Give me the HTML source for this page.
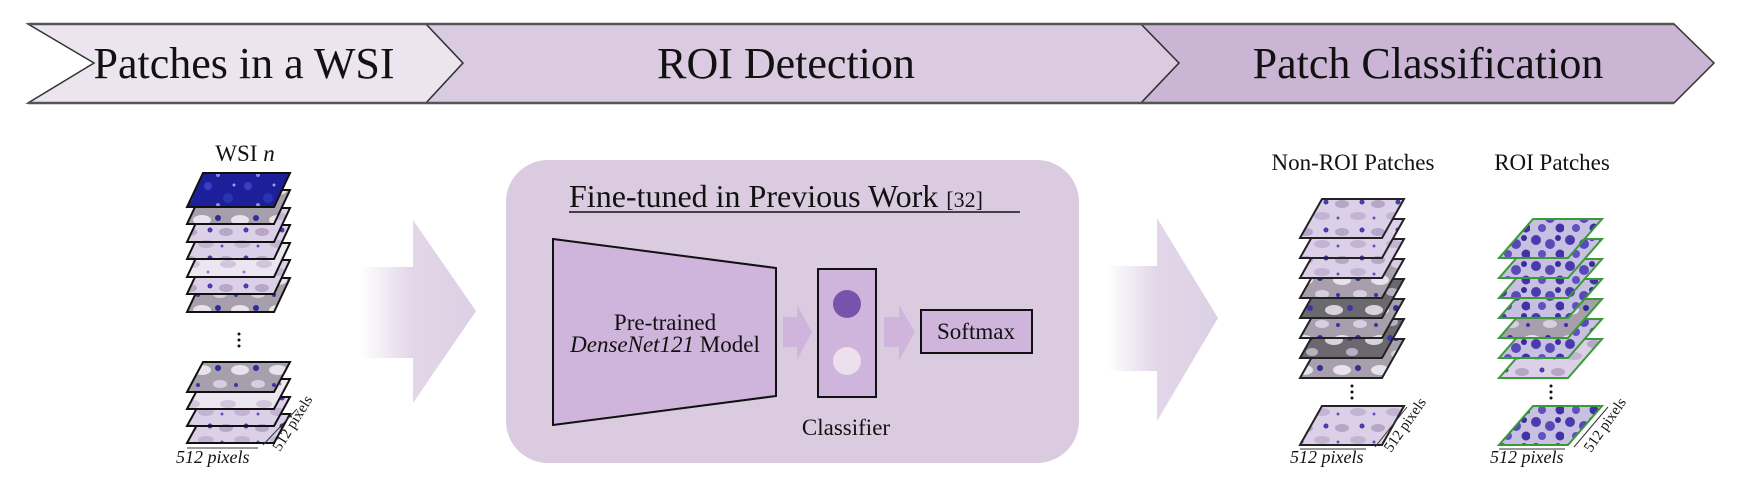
<!DOCTYPE html>
<html><head><meta charset="utf-8"><style>
html,body{margin:0;padding:0;background:#fff;}
svg{display:block;}
text{font-family:"Liberation Serif",serif;fill:#111;}
</style></head><body>
<svg width="1738" height="490" viewBox="0 0 1738 490" xmlns="http://www.w3.org/2000/svg">
<defs>
 <linearGradient id="ga" x1="0" x2="1" y1="0" y2="0">
  <stop offset="0" stop-color="#e2d6e8" stop-opacity="0"/>
  <stop offset="0.45" stop-color="#e2d6e8" stop-opacity="1"/>
  <stop offset="1" stop-color="#ddd0e4"/>
 </linearGradient>
 <pattern id="pBlue" patternUnits="userSpaceOnUse" width="40" height="30">
  <rect width="40" height="30" fill="#1d1f9a"/>
  <circle cx="8" cy="6" r="4" fill="#3440c0"/><circle cx="28" cy="18" r="5" fill="#2a33b0"/>
  <circle cx="18" cy="25" r="2" fill="#8a8ad8"/><circle cx="34" cy="5" r="1.5" fill="#9aa0e0"/>
 </pattern>
 <pattern id="pLight" patternUnits="userSpaceOnUse" width="36" height="28">
  <rect width="36" height="28" fill="#dcd0e8"/>
  <ellipse cx="10" cy="8" rx="7" ry="4" fill="#b8a6c8"/><ellipse cx="26" cy="20" rx="8" ry="4" fill="#c4b4d4"/>
  <circle cx="30" cy="6" r="2.5" fill="#4b3aa8"/><circle cx="6" cy="22" r="1.5" fill="#6a50b8"/>
 </pattern>
 <pattern id="pGray" patternUnits="userSpaceOnUse" width="38" height="30">
  <rect width="38" height="30" fill="#a7a0ac"/>
  <ellipse cx="12" cy="10" rx="9" ry="5" fill="#e8e2ec"/><ellipse cx="30" cy="24" rx="7" ry="4" fill="#d8cee2"/>
  <circle cx="28" cy="8" r="3" fill="#2d2c9a"/><circle cx="8" cy="25" r="2" fill="#3b35a8"/>
 </pattern>
 <pattern id="pDark" patternUnits="userSpaceOnUse" width="40" height="30">
  <rect width="40" height="30" fill="#6c6870"/>
  <ellipse cx="14" cy="10" rx="9" ry="5" fill="#d8d4dc"/><ellipse cx="32" cy="22" rx="6" ry="4" fill="#b8b0c0"/>
  <circle cx="30" cy="8" r="3" fill="#3a36a8"/>
 </pattern>
 <pattern id="pPale" patternUnits="userSpaceOnUse" width="36" height="28">
  <rect width="36" height="28" fill="#ece6f0"/>
  <ellipse cx="12" cy="12" rx="8" ry="4" fill="#d2c6dc"/><circle cx="28" cy="20" r="1.5" fill="#9a7ac8"/>
 </pattern>
 <pattern id="pRoi" patternUnits="userSpaceOnUse" width="34" height="26">
  <rect width="34" height="26" fill="#c8c0e0"/>
  <circle cx="6" cy="6" r="5" fill="#4a3ab0"/><circle cx="20" cy="10" r="5" fill="#5a48b8"/>
  <circle cx="30" cy="20" r="4.5" fill="#4232a8"/><circle cx="12" cy="20" r="4" fill="#6050c0"/>
  <circle cx="28" cy="4" r="3" fill="#3a2ca0"/>
 </pattern>
</defs>

<polygon points="28,24 426,24 463,63 426,103 28,103 94,63" fill="#ece4ee" stroke="#333" stroke-width="1.5"/>
<polygon points="426,24 1141,24 1179,63 1141,103 426,103 463,63" fill="#dacbe1" stroke="#333" stroke-width="1.5"/>
<polygon points="1141,24 1674,24 1714,63 1674,103 1141,103 1179,63" fill="#cbb5d5" stroke="#333" stroke-width="1.5"/>
<line x1="28" y1="24" x2="1674" y2="24" stroke="#555" stroke-width="2.5"/>
<line x1="28" y1="103" x2="1674" y2="103" stroke="#555" stroke-width="2.5"/>
<text x="244" y="78" font-size="44" text-anchor="middle">Patches in a WSI</text>
<text x="786" y="78" font-size="44" text-anchor="middle">ROI Detection</text>
<text x="1428" y="78" font-size="44" text-anchor="middle">Patch Classification</text>

<text x="245" y="161" font-size="23" text-anchor="middle">WSI <tspan font-style="italic">n</tspan></text>
<g stroke="#111" stroke-width="2">
 <polygon points="203,278 290,278 274,312 187,312" fill="url(#pGray)"/>
 <polygon points="203,260 290,260 274,294 187,294" fill="url(#pLight)"/>
 <polygon points="203,243 290,243 274,277 187,277" fill="url(#pPale)"/>
 <polygon points="203,225 290,225 274,259 187,259" fill="url(#pLight)"/>
 <polygon points="203,208 290,208 274,242 187,242" fill="url(#pLight)"/>
 <polygon points="203,190 290,190 274,224 187,224" fill="url(#pGray)"/>
 <polygon points="203,173 290,173 274,207 187,207" fill="url(#pBlue)"/>
 <polygon points="203,414 290,414 274,443 187,443" fill="url(#pLight)"/>
 <polygon points="203,397 290,397 274,426 187,426" fill="url(#pLight)"/>
 <polygon points="203,379 290,379 274,409 187,409" fill="url(#pPale)"/>
 <polygon points="203,362 290,362 274,392 187,392" fill="url(#pGray)"/>
</g>
<circle cx="239" cy="334" r="1.5" fill="#111"/><circle cx="239" cy="340" r="1.5" fill="#111"/><circle cx="239" cy="346" r="1.5" fill="#111"/>
<line x1="187" y1="448" x2="258" y2="448" stroke="#333" stroke-width="1"/>
<line x1="263" y1="445" x2="297" y2="409" stroke="#333" stroke-width="1"/>
<text x="176" y="463" font-size="18" font-style="italic">512 pixels</text>
<text x="0" y="0" font-size="15" transform="translate(280,452) rotate(-58)">512 pixels</text>

<polygon points="360,267 413,267 413,220 476,311 413,403 413,358 360,358" fill="url(#ga)"/>

<rect x="506" y="160" width="573" height="303" rx="42" fill="#dacbe1"/>
<text x="569" y="207" font-size="32">Fine-tuned in Previous Work <tspan font-size="22">[32]</tspan></text>
<line x1="569" y1="212" x2="1020" y2="212" stroke="#111" stroke-width="1.5"/>
<polygon points="553,239 776,268 776,396 553,425" fill="#cfb4dc" stroke="#111" stroke-width="2"/>
<text x="665" y="330" font-size="23" text-anchor="middle">Pre-trained</text>
<text x="665" y="352" font-size="23" text-anchor="middle"><tspan font-style="italic">DenseNet121</tspan> Model</text>
<polygon points="783,317 797,317 797,305 812,332 797,360 797,347 783,347" fill="#cfb4dc"/>
<rect x="818" y="269" width="58" height="128" fill="#cfb4dc" stroke="#111" stroke-width="2"/>
<circle cx="847" cy="304" r="14" fill="#7b52ab"/>
<circle cx="847" cy="361" r="14" fill="#ecdfee"/>
<text x="846" y="435" font-size="23" text-anchor="middle">Classifier</text>
<polygon points="884,317 899,317 899,305 915,332 899,360 899,347 884,347" fill="#cfb4dc"/>
<rect x="921" y="310" width="111" height="43" fill="#cfb4dc" stroke="#111" stroke-width="2"/>
<text x="976" y="339" font-size="23" text-anchor="middle">Softmax</text>

<polygon points="1107,266 1157,266 1157,218 1218,318 1157,421 1157,371 1107,371" fill="url(#ga)"/>

<text x="1353" y="170" font-size="23" text-anchor="middle">Non-ROI Patches</text>
<g stroke="#222" stroke-width="2">
 <polygon points="1322,339 1404,339 1382,378 1300,378" fill="url(#pGray)"/>
 <polygon points="1322,319 1404,319 1382,358 1300,358" fill="url(#pDark)"/>
 <polygon points="1322,299 1404,299 1382,338 1300,338" fill="url(#pGray)"/>
 <polygon points="1322,279 1404,279 1382,318 1300,318" fill="url(#pDark)"/>
 <polygon points="1322,259 1404,259 1382,298 1300,298" fill="url(#pGray)"/>
 <polygon points="1322,239 1404,239 1382,278 1300,278" fill="url(#pLight)"/>
 <polygon points="1322,219 1404,219 1382,258 1300,258" fill="url(#pLight)"/>
 <polygon points="1322,199 1404,199 1382,238 1300,238" fill="url(#pLight)"/>
 <polygon points="1322,406 1404,406 1382,445 1300,445" fill="url(#pLight)"/>
</g>
<circle cx="1352" cy="386" r="1.5" fill="#111"/><circle cx="1352" cy="392" r="1.5" fill="#111"/><circle cx="1352" cy="398" r="1.5" fill="#111"/>
<line x1="1300" y1="449" x2="1366" y2="449" stroke="#333" stroke-width="1"/>
<line x1="1375" y1="447" x2="1407" y2="407" stroke="#333" stroke-width="1"/>
<text x="1290" y="463" font-size="18" font-style="italic">512 pixels</text>
<text x="0" y="0" font-size="15" transform="translate(1391,453) rotate(-55)">512 pixels</text>

<text x="1552" y="170" font-size="23" text-anchor="middle">ROI Patches</text>
<g stroke="#3a9a3a" stroke-width="2">
 <polygon points="1533,339 1602,339 1568,378 1499,378" fill="url(#pLight)"/>
 <polygon points="1533,319 1602,319 1568,358 1499,358" fill="url(#pRoi)"/>
 <polygon points="1533,299 1602,299 1568,338 1499,338" fill="url(#pGray)"/>
 <polygon points="1533,279 1602,279 1568,318 1499,318" fill="url(#pRoi)"/>
 <polygon points="1533,259 1602,259 1568,298 1499,298" fill="url(#pRoi)"/>
 <polygon points="1533,239 1602,239 1568,278 1499,278" fill="url(#pRoi)"/>
 <polygon points="1533,219 1602,219 1568,258 1499,258" fill="url(#pRoi)"/>
 <polygon points="1533,406 1602,406 1568,445 1499,445" fill="url(#pRoi)"/>
</g>
<circle cx="1551" cy="386" r="1.5" fill="#111"/><circle cx="1551" cy="392" r="1.5" fill="#111"/><circle cx="1551" cy="398" r="1.5" fill="#111"/>
<line x1="1499" y1="449" x2="1565" y2="449" stroke="#333" stroke-width="1"/>
<line x1="1574" y1="447" x2="1608" y2="407" stroke="#333" stroke-width="1"/>
<text x="1490" y="463" font-size="18" font-style="italic">512 pixels</text>
<text x="0" y="0" font-size="15" transform="translate(1591,453) rotate(-55)">512 pixels</text>
</svg>
</body></html>
